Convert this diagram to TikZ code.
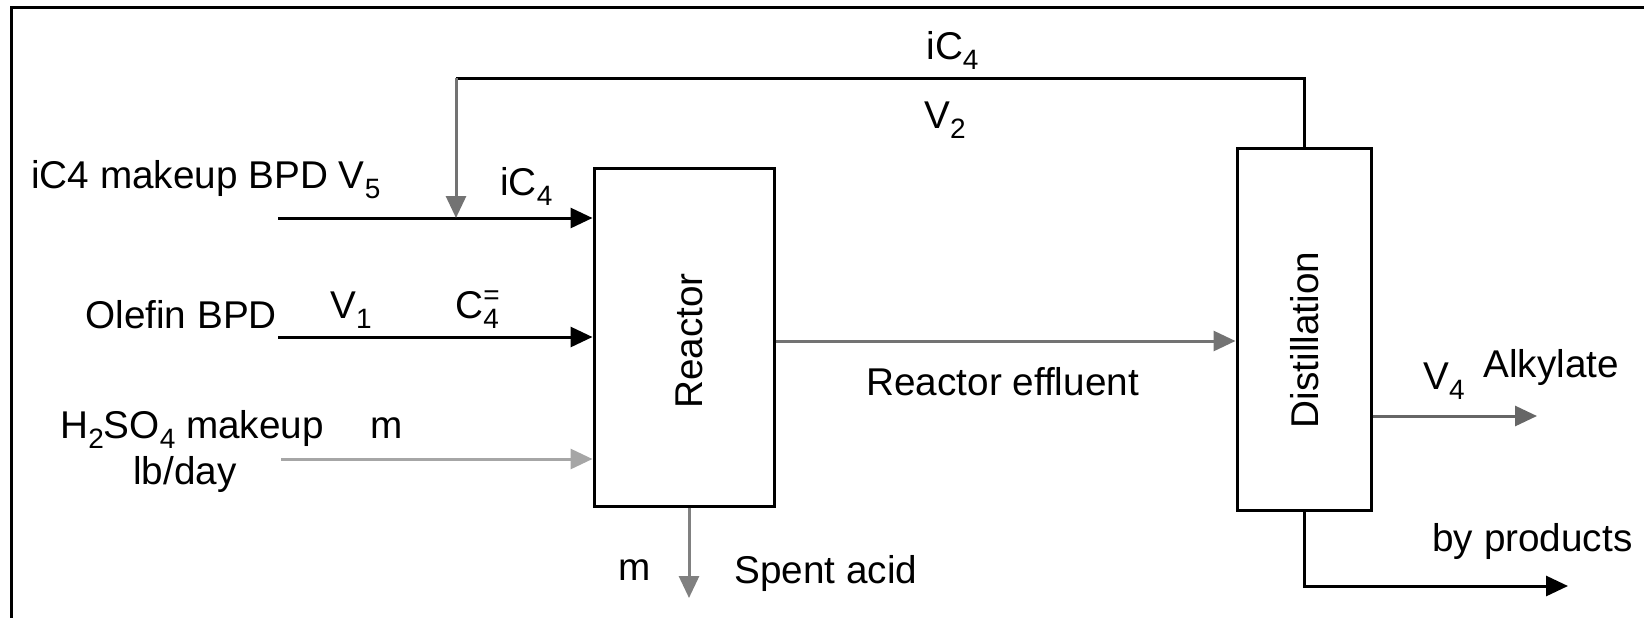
\documentclass[tikz,border=0pt]{standalone}
\usepackage{fontspec}
\setmainfont{Liberation Sans}
\usetikzlibrary{arrows.meta}
\newcommand{\mysub}[1]{\raisebox{-5pt}{\fontsize{14pt}{14pt}\selectfont #1}}
\newcommand{\mysup}[1]{\makebox[0pt][l]{\raisebox{7pt}{\fontsize{14pt}{14pt}\selectfont #1}}}
\tikzset{
  lbl/.style={inner sep=0pt, anchor=base west, font=\fontsize{19.35pt}{22pt}\selectfont},
  rlbl/.style={inner sep=0pt, rotate=90, font=\fontsize{19.35pt}{22pt}\selectfont},
  blockbox/.style={draw=black, line width=1.5pt, fill=white, inner sep=0pt},
  flow/.style={line width=1.5pt, -{Triangle[length=11pt,width=10pt]}},
  plain/.style={line width=1.5pt},
}
\begin{document}
\begin{tikzpicture}[x=0.5pt,y=-0.5pt]
\useasboundingbox (0,0) rectangle (1644,617);
\clip (0,0) rectangle (1644,617);
% frame
\draw[plain] (1700,7) -- (11,7) -- (11,700);
% boxes
\node (reactor) [blockbox, minimum width=90pt, minimum height=169pt] at (684,337) {};
\node (dist) [blockbox, minimum width=67pt, minimum height=181pt] at (1304,329) {};
\node (reactorlbl) [rlbl] at (689,341) {Reactor};
\node (distlbl) [rlbl] at (1305,340) {Distillation};
% coordinates
\coordinate (s1) at (278,218);
\coordinate (s2) at (278,337);
\coordinate (s3) at (281,459);
\coordinate (jn) at (456,218);
\coordinate (rc) at (456,78);
\coordinate (sp) at (689,598);
\coordinate (ef) at (774,341);
\coordinate (al) at (1537,416);
\coordinate (bp) at (1568,586);
% connectors
\draw[flow] (s1) -- (s1 -| reactor.west);
\draw[flow] (s2) -- (s2 -| reactor.west);
\draw[flow, draw=black!35] (s3) -- (s3 -| reactor.west);
\draw[plain] (dist.north) |- (rc);
\draw[flow, draw=black!55] (rc) -- (jn);
\draw[flow, draw=black!55] (ef -| reactor.east) -- (ef -| dist.west);
\draw[flow, draw=black!50] (reactor.south -| sp) -- (sp);
\draw[flow, draw=black!60] (al -| dist.east) -- (al);
\draw[flow] (dist.south) |- (bp);
% labels
\node (t1) [lbl] at (31,188) {iC4 makeup BPD V\mysub{5}};
\node (t2) [lbl] at (500,195) {iC\mysub{4}};
\node (t3) [lbl] at (85,328) {Olefin BPD};
\node (t4) [lbl] at (330,318) {V\mysub{1}};
\node (t5) [lbl] at (455,318) {C\mysup{=}\mysub{4}};
\node (t6) [lbl] at (60,438) {H\mysub{2}SO\mysub{4} makeup};
\node (t7) [lbl] at (370,438) {m};
\node (t8) [lbl] at (133,484) {lb/day};
\node (t9) [lbl] at (618,580) {m};
\node (t10) [lbl] at (734,583) {Spent acid};
\node (t11) [lbl] at (866,395) {Reactor effluent};
\node (t12) [lbl] at (926,59) {iC\mysub{4}};
\node (t13) [lbl] at (924,128) {V\mysub{2}};
\node (t14) [lbl] at (1423,389) {V\mysub{4}};
\node (t15) [lbl] at (1483,377) {Alkylate};
\node (t16) [lbl] at (1432,551) {by products};
\end{tikzpicture}
\end{document}
